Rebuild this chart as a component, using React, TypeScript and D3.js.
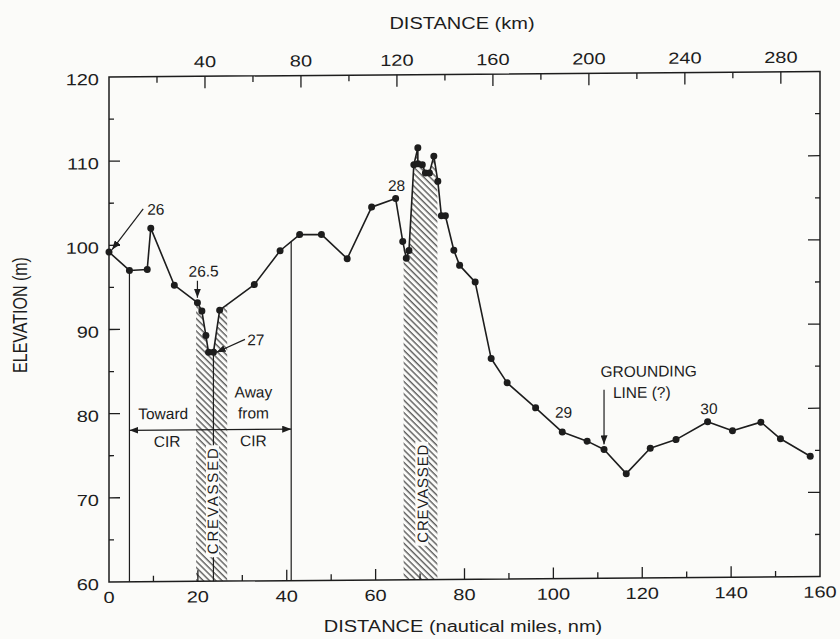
import React, { useEffect, useRef } from "react";
import * as d3 from "d3";

// profile: distance along track (nm) and surface elevation (m)
const nm = [0, 4.6, 8.6, 9.4, 14.7, 19.9, 20.9, 21.8, 22.4, 23.5, 24.9, 32.7, 38.5, 42.9, 47.8, 53.6, 59.1, 64.5, 66.1, 66.9, 67.5, 68.6, 69.5, 69.5, 70.5, 71.2, 72.1, 73.1, 74.0, 74.8, 75.7, 77.6, 78.9, 82.4, 86.0, 89.6, 96.0, 102.0, 107.6, 111.4, 116.4, 121.8, 127.6, 134.7, 140.3, 146.7, 151.1, 157.8];
const elevation = [99.2, 97.0, 97.1, 102.0, 95.2, 93.1, 92.1, 89.2, 87.2, 87.2, 92.2, 95.2, 99.2, 101.1, 101.1, 98.2, 104.3, 105.3, 100.2, 98.2, 99.1, 109.3, 111.3, 109.4, 109.3, 108.3, 108.3, 110.3, 107.3, 103.2, 103.2, 99.1, 97.3, 95.3, 86.2, 83.3, 80.3, 77.4, 76.3, 75.3, 72.4, 75.4, 76.4, 78.5, 77.4, 78.4, 76.4, 74.3];

// crevassed zones (nm from, nm to)
const crevassedFrom = [19.6, 66.3];
const crevassedTo = [26.6, 73.9];

// vertical drop lines (nm)
const dropLines = [4.6, 23.5, 41.0];

const nmTicks = d3.range(0, 161, 20);
const nmMinor = d3.range(10, 160, 20);
const elevTicks = d3.range(60, 121, 10);
const elevMinor = d3.range(65, 120, 10);
const kmTicks = d3.range(20, 290, 20);
const kmLabels = [40, 80, 120, 160, 200, 240, 280];
const KM_PER_NM = 1.852;

export default function App() {
  const ref = useRef<SVGSVGElement>(null);

  useEffect(() => {
    const svg = d3.select(ref.current);
    svg.selectAll("*").remove();

    const left = 109, top = 77, W = 711, H = 505;
    const font = "'Liberation Sans', Arial, Helvetica, sans-serif";
    const ink = "#1d1d1d";

    const x = d3.scaleLinear().domain([0, 160]).range([left, left + W]);
    const xKm = d3.scaleLinear().domain([0, 160 * KM_PER_NM]).range([left, left + W]);
    const y = d3.scaleLinear().domain([60, 120]).range([top + H, top]);

    const pts = nm.map((d, i) => [d, elevation[i]] as [number, number]);
    const yAt = (v: number) => {
      const i = d3.bisector((p: [number, number]) => p[0]).left(pts, v);
      if (i <= 0) return pts[0][1];
      const a = pts[i - 1], b = pts[i];
      if (b[0] === a[0]) return b[1];
      return a[1] + (b[1] - a[1]) * (v - a[0]) / (b[0] - a[0]);
    };

    const defs = svg.append("defs");
    const pat = defs.append("pattern")
      .attr("id", "hatch")
      .attr("patternUnits", "userSpaceOnUse")
      .attr("width", 4.4)
      .attr("height", 10)
      .attr("patternTransform", "rotate(-45)");
    pat.append("line")
      .attr("x1", 1).attr("x2", 1).attr("y1", 0).attr("y2", 10)
      .attr("stroke", ink).attr("stroke-width", 1);

    defs.append("marker")
      .attr("id", "arr")
      .attr("markerUnits", "userSpaceOnUse")
      .attr("markerWidth", 9).attr("markerHeight", 7)
      .attr("refX", 9).attr("refY", 3.5)
      .attr("orient", "auto-start-reverse")
      .append("path").attr("d", "M0,0 L9,3.5 L0,7 Z").attr("fill", ink);

    crevassedFrom.forEach((a, i) => {
      defs.append("clipPath").attr("id", "clip" + i)
        .append("rect")
        .attr("x", x(a)).attr("width", x(crevassedTo[i]) - x(a))
        .attr("y", top - 20).attr("height", H + 20);
    });

    // whole plot, with the slight slant of the scanned original
    const g = svg.append("g")
      .attr("transform", `translate(${left},0) skewY(-0.44) translate(${-left},0)`)
      .style("font-family", font);

    // hatched crevasse zones
    const area = d3.area<[number, number]>()
      .x(d => x(d[0])).y0(y(60)).y1(d => y(d[1]));
    crevassedFrom.forEach((a, i) => {
      g.append("path")
        .attr("d", area(pts))
        .attr("fill", "url(#hatch)")
        .attr("clip-path", `url(#clip${i})`);
    });

    // drop lines
    g.selectAll(".drop").data(dropLines).enter().append("line")
      .attr("x1", d => x(d)).attr("x2", d => x(d))
      .attr("y1", d => y(yAt(d))).attr("y2", y(60))
      .attr("stroke", ink).attr("stroke-width", 1.2);

    // CREVASSED labels
    const crevLabel = [[23.4, 69.5, 106], [70.5, 70.2, 98]];
    crevLabel.forEach(([cx, cy, len]) => {
      g.append("rect")
        .attr("x", x(cx) - 7).attr("y", y(cy) - len / 2 - 3)
        .attr("width", 13).attr("height", len + 6)
        .attr("fill", "#fbfbf9");
      g.append("text")
        .attr("transform", `translate(${x(cx) + 5.5},${y(cy)}) rotate(-90)`)
        .attr("text-anchor", "middle")
        .attr("textLength", len).attr("lengthAdjust", "spacing")
        .style("font-size", "15px").attr("fill", ink)
        .text("CREVASSED");
    });

    // frame
    g.append("rect")
      .attr("x", left).attr("y", top).attr("width", W).attr("height", H)
      .attr("fill", "none").attr("stroke", ink).attr("stroke-width", 1.5);

    const tick = (x1: number, y1: number, x2: number, y2: number) =>
      g.append("line").attr("x1", x1).attr("y1", y1).attr("x2", x2).attr("y2", y2)
        .attr("stroke", ink).attr("stroke-width", 1.3);

    const axisText = (tx: number, ty: number, s: string, anchor: string) =>
      g.append("text")
        .attr("transform", `translate(${tx},${ty}) scale(1.25,1)`)
        .attr("text-anchor", anchor)
        .style("font-size", "16px").attr("fill", ink)
        .text(s);

    // bottom (nm)
    nmTicks.forEach(d => {
      if (d > 0 && d < 160) tick(x(d), y(60), x(d), y(60) - 11);
      axisText(x(d), y(60) + 21, String(d), "middle");
    });
    nmMinor.forEach(d => tick(x(d), y(60), x(d), y(60) - 6));

    // top (km)
    kmTicks.forEach(d => {
      const major = kmLabels.includes(d);
      tick(xKm(d), top, xKm(d), top + (major ? 12 : 6));
      if (major) axisText(xKm(d), top - 9, String(d), "middle");
    });

    // left and right (m)
    elevTicks.forEach(d => {
      if (d > 60 && d < 120) {
        tick(left, y(d), left + 11, y(d));
        tick(left + W, y(d), left + W - 12, y(d));
      }
      axisText(99, y(d) + 8, String(d), "end");
    });
    elevMinor.forEach(d => {
      tick(left, y(d), left + 5, y(d));
      tick(left + W, y(d), left + W - 5, y(d));
    });

    // profile
    const line = d3.line<[number, number]>().x(d => x(d[0])).y(d => y(d[1]));
    g.append("path").attr("d", line(pts))
      .attr("fill", "none").attr("stroke", ink).attr("stroke-width", 1.6)
      .attr("stroke-linejoin", "round");
    g.selectAll(".dot").data(pts).enter().append("circle")
      .attr("cx", d => x(d[0])).attr("cy", d => y(d[1])).attr("r", 3.5)
      .attr("fill", ink);

    // annotations
    const note = (nx: number, ny: number, s: string, anchor: string) =>
      g.append("text")
        .attr("x", x(nx)).attr("y", y(ny))
        .attr("text-anchor", anchor)
        .style("font-size", "15.5px").attr("fill", ink)
        .text(s);
    const pointer = (a: number[], b: number[]) =>
      g.append("line")
        .attr("x1", x(a[0])).attr("y1", y(a[1]))
        .attr("x2", x(b[0])).attr("y2", y(b[1]))
        .attr("stroke", ink).attr("stroke-width", 1.2)
        .attr("marker-end", "url(#arr)");

    note(8.6, 103.6, "26", "start");
    pointer([7.7, 104.3], [0.7, 99.5]);
    note(21.3, 96.2, "26.5", "middle");
    pointer([19.9, 95.7], [19.9, 93.7]);
    note(31.1, 88.0, "27", "start");
    pointer([30.6, 88.7], [24.2, 87.2]);
    note(64.7, 106.2, "28", "middle");
    note(102.3, 79.1, "29", "middle");
    note(135.0, 79.4, "30", "middle");
    note(110.6, 83.9, "GROUNDING", "start");
    note(113.4, 81.4, "LINE (?)", "start");
    pointer([111.4, 82.4], [111.4, 75.9]);

    g.append("line")
      .attr("x1", x(dropLines[0])).attr("x2", x(dropLines[2]))
      .attr("y1", y(78)).attr("y2", y(78))
      .attr("stroke", ink).attr("stroke-width", 1.2)
      .attr("marker-start", "url(#arr)").attr("marker-end", "url(#arr)");
    note(12.2, 79.3, "Toward", "middle");
    note(13.1, 76.0, "CIR", "middle");
    note(32.5, 81.8, "Away", "middle");
    note(32.5, 79.3, "from", "middle");
    note(32.5, 76.0, "CIR", "middle");

    // axis titles
    const title = (tx: number, ty: number, s: string, rot = 0) =>
      svg.append("text")
        .attr("transform", `translate(${tx},${ty}) scale(1.25,1)` + (rot ? ` rotate(${rot})` : ""))
        .attr("text-anchor", "middle")
        .style("font-family", font).style("font-size", "16px").attr("fill", ink)
        .text(s);
    title(462, 29, "DISTANCE (km)");
    title(463, 632, "DISTANCE (nautical miles, nm)");
    title(27, 315, "ELEVATION (m)", -90);
  }, []);

  return (
    <svg
      ref={ref}
      width={840}
      height={639}
      style={{ position: "absolute", left: 0, top: 0, background: "#fbfbf9" }}
    />
  );
}
